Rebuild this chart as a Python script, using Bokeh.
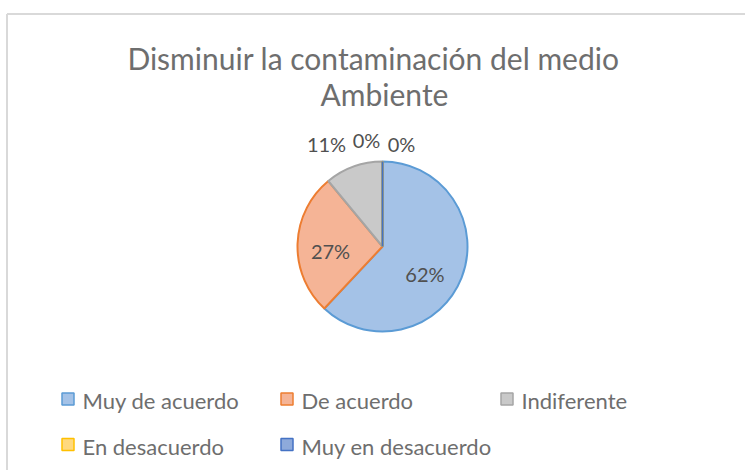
import math
from bokeh.plotting import figure
from bokeh.models import Range1d, ColumnDataSource
from bokeh.core.properties import value
from bokeh.embed import file_html
from bokeh.resources import INLINE

# ---- data ----
categories = ["Muy de acuerdo", "De acuerdo", "Indiferente", "En desacuerdo", "Muy en desacuerdo"]
percentages = [62, 27, 11, 0, 0]
title_lines = ["Disminuir la contaminación del medio", "Ambiente"]

# ---- styles ----
fill_colors = ["#a4c2e7", "#f5b496", "#c9c9c9", "#ffd97f", "#8eaadb"]
line_colors = ["#5b9bd5", "#ed7d31", "#a5a5a5", "#ffc000", "#4472c4"]
FONT = "Lato"
TITLE_COLOR = "#6e6e6e"
LEGEND_COLOR = "#6e6e6e"
LABEL_COLOR = "#505050"

W, H = 745, 470
CX, CY, R = 382, -246, 85
# per-label nudges (pixels) mimicking Excel's best-fit placement
label_radius = [0.6, 0.6, 1.25, 1.25, 1.25]
label_nudge = [(-5, 9), (-1, 6), (-20, -3), (-16, 0), (19, 4)]

p = figure(width=W, height=H, output_backend="svg", toolbar_location=None,
           x_range=Range1d(0, W), y_range=Range1d(-H, 0),
           min_border=0, outline_line_color=None)
p.axis.visible = False
p.grid.visible = False
p.background_fill_color = "white"
p.border_fill_color = "white"

# chart frame (top and left edges visible)
p.line(x=[6.5, W], y=[-13.5, -13.5], line_color="#d9d9d9", line_width=2)
p.line(x=[6.5, 6.5], y=[-13.5, -H], line_color="#d9d9d9", line_width=2)

# ---- pie ----
total = float(sum(percentages))
cum = 0.0
starts, ends, mids = [], [], []
for v in percentages:
    a0 = math.pi / 2 - 2 * math.pi * cum / total
    cum += v
    a1 = math.pi / 2 - 2 * math.pi * cum / total
    starts.append(a1)
    ends.append(a0)
    mids.append((a0 + a1) / 2)

for i, v in enumerate(percentages):
    if v > 0:
        p.wedge(x=CX, y=CY, radius=R, start_angle=starts[i], end_angle=ends[i],
                direction="anticlock", fill_color=fill_colors[i],
                line_color=line_colors[i], line_width=2)
for i, v in enumerate(percentages):
    if v == 0:
        p.line(x=[CX, CX + R * math.cos(ends[i])], y=[CY, CY + R * math.sin(ends[i])],
               line_color=line_colors[i], line_width=2)

# ---- data labels ----
lx, ly, lt = [], [], []
for i, v in enumerate(percentages):
    rr = R * label_radius[i]
    dx, dy = label_nudge[i]
    lx.append(CX + rr * math.cos(mids[i]) + dx)
    ly.append(CY + rr * math.sin(mids[i]) - dy)
    lt.append(f"{v}%")
p.text(x="x", y="y", text="t", source=ColumnDataSource(dict(x=lx, y=ly, t=lt)),
       text_font=value(FONT), text_font_size="20px", text_color=LABEL_COLOR,
       text_align="center", text_baseline="middle")

# ---- title ----
p.text(x=[373, 384], y=[-57, -93.5], text=title_lines, text_font=value(FONT),
       text_font_size="30px", text_color=TITLE_COLOR, text_align="center",
       text_baseline="middle")

# ---- legend ----
col_x = [61, 280, 500]
row_y = [-398.5, -444]
mx, my, tx, ty = [], [], [], []
for i, name in enumerate(categories):
    c, r = i % 3, i // 3
    mx.append(col_x[c] + 6.5)
    my.append(row_y[r])
    tx.append(col_x[c] + 21)
    ty.append(row_y[r] - 1.5)
p.rect(x=mx, y=my, width=12, height=12, fill_color=fill_colors,
       line_color=line_colors, line_width=1.5)
p.text(x=tx, y=ty, text=categories, text_font=value(FONT), text_font_size="22px",
       text_color=LEGEND_COLOR, text_align="left", text_baseline="middle")

open("out.html", "w").write(file_html(p, INLINE))
